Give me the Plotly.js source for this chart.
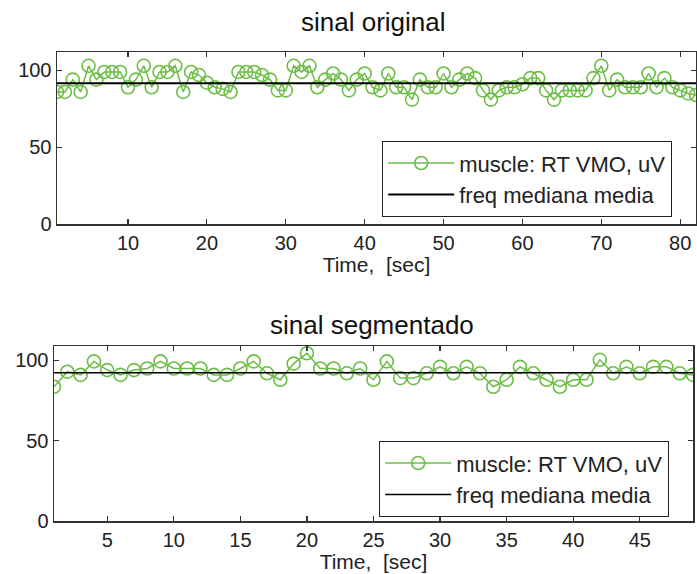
<!DOCTYPE html>
<html>
<head>
<meta charset="utf-8">
<script src="https://cdn.plot.ly/plotly-3.0.1.min.js"></script>
<style>html,body{margin:0;padding:0;background:#fff;}#chart{width:697px;height:574px;}</style>
</head>
<body>
<div id="chart"></div>
<script>
// Top panel: sinal original
const timeOriginal = Array.from({length: 82}, (_, i) => i + 1);
const valuesOriginal = [
  86, 86, 94, 86, 103, 94, 99, 99, 99, 89,
  94, 103, 89, 99, 99, 103, 86, 99, 97, 92,
  89, 88, 86, 99, 99, 99, 97, 94, 87, 87,
  103, 99, 103, 89, 94, 98, 94, 87, 94, 98,
  89, 87, 98, 89, 89, 81, 94, 89, 89, 98,
  89, 94, 98, 95, 87, 81, 87, 89, 89, 91,
  95, 95, 87, 81, 87, 87, 87, 87, 95, 103,
  87, 94, 89, 89, 89, 98, 89, 95, 89, 87,
  85, 84
];
const meanOriginalX = [1, 82];
const meanOriginalY = [91.7, 91.7];

// Bottom panel: sinal segmentado
const timeSegment = Array.from({length: 49}, (_, i) => i + 1);
const valuesSegment = [
  83.6, 93, 91, 99.4, 94, 91, 94, 95, 99.4, 95,
  95, 95, 91, 91, 95, 99.4, 92, 88, 98, 104.5,
  95, 95, 92, 95, 88, 99.4, 89, 89, 92, 96,
  92, 96, 92, 83.6, 88, 96, 92, 88, 83.6, 88,
  88, 100.4, 92, 96, 92, 96, 96, 92, 91
];
const meanSegmentX = [1, 49];
const meanSegmentY = [92.3, 92.3];

const xTicksTop = [10, 20, 30, 40, 50, 60, 70, 80];
const xTicksBottom = [5, 10, 15, 20, 25, 30, 35, 40, 45];
const yTicks = [0, 50, 100];

const seriesName = 'muscle: RT VMO, uV';
const meanName = 'freq mediana media';
const green = '#6cbd45';
const fontFam = '"Liberation Sans", Arial, sans-serif';

const traces = [
  {x: timeOriginal, y: valuesOriginal, xaxis: 'x', yaxis: 'y', type: 'scatter', mode: 'lines+markers',
   name: seriesName, line: {color: green, width: 1.5},
   marker: {symbol: 'circle-open', size: 13, color: green, line: {width: 1.6, color: green}}, legend: 'legend'},
  {x: meanOriginalX, y: meanOriginalY, xaxis: 'x', yaxis: 'y', type: 'scatter', mode: 'lines',
   name: meanName, line: {color: '#000', width: 2}, legend: 'legend'},
  {x: timeSegment, y: valuesSegment, xaxis: 'x2', yaxis: 'y2', type: 'scatter', mode: 'lines+markers',
   name: seriesName, line: {color: green, width: 1.5},
   marker: {symbol: 'circle-open', size: 13, color: green, line: {width: 1.6, color: green}}, legend: 'legend2'},
  {x: meanSegmentX, y: meanSegmentY, xaxis: 'x2', yaxis: 'y2', type: 'scatter', mode: 'lines',
   name: meanName, line: {color: '#000', width: 1.5}, legend: 'legend2'}
];

const axisCommon = {
  showgrid: false, zeroline: false, showline: true, linecolor: '#333', linewidth: 1.5,
  mirror: 'ticks', ticks: 'inside', ticklen: 5, tickwidth: 1.2, tickcolor: '#333',
  tickfont: {family: fontFam, size: 20, color: '#222'}
};

const legendCommon = {
  bgcolor: '#fff', bordercolor: '#222', borderwidth: 1.2,
  font: {family: fontFam, size: 22, color: '#222'},
  xanchor: 'left', yanchor: 'top', itemwidth: 66, tracegroupgap: 0
};

const axisTitleFont = {family: fontFam, size: 21, color: '#222'};

const layout = {
  width: 697, height: 574,
  margin: {l: 0, r: 0, t: 0, b: 0},
  paper_bgcolor: '#fff', plot_bgcolor: '#fff',
  font: {family: fontFam, color: '#222'},
  xaxis: Object.assign({}, axisCommon, {domain: [57/697, 696/697], range: [1, 82], tickvals: xTicksTop,
    anchor: 'y', title: {text: 'Time,  [sec]', font: axisTitleFont, standoff: 0}}),
  yaxis: Object.assign({}, axisCommon, {domain: [1 - 224/574, 1 - 52/574], range: [0, 112], tickvals: yTicks, anchor: 'x'}),
  xaxis2: Object.assign({}, axisCommon, {domain: [54/697, 693/697], range: [1, 49], tickvals: xTicksBottom,
    anchor: 'y2', title: {text: 'Time,  [sec]', font: axisTitleFont, standoff: 0}}),
  yaxis2: Object.assign({}, axisCommon, {domain: [1 - 521/574, 1 - 346/574], range: [0, 109], tickvals: yTicks, anchor: 'x2'}),
  legend: Object.assign({}, legendCommon, {x: 382/697, y: 1 - 141/574}),
  legend2: Object.assign({}, legendCommon, {x: 379/697, y: 1 - 441/574}),
  annotations: [
    {text: 'sinal original', xref: 'paper', yref: 'paper', x: 373/697, y: 1 - 22/574, showarrow: false,
     xanchor: 'center', yanchor: 'middle', font: {family: fontFam, size: 26, color: '#111'}},
    {text: 'sinal segmentado', xref: 'paper', yref: 'paper', x: 372/697, y: 1 - 325/574, showarrow: false,
     xanchor: 'center', yanchor: 'middle', font: {family: fontFam, size: 26, color: '#111'}}
  ],
  showlegend: true
};

Plotly.newPlot('chart', traces, layout, {displayModeBar: false, staticPlot: true});
</script>
</body>
</html>
